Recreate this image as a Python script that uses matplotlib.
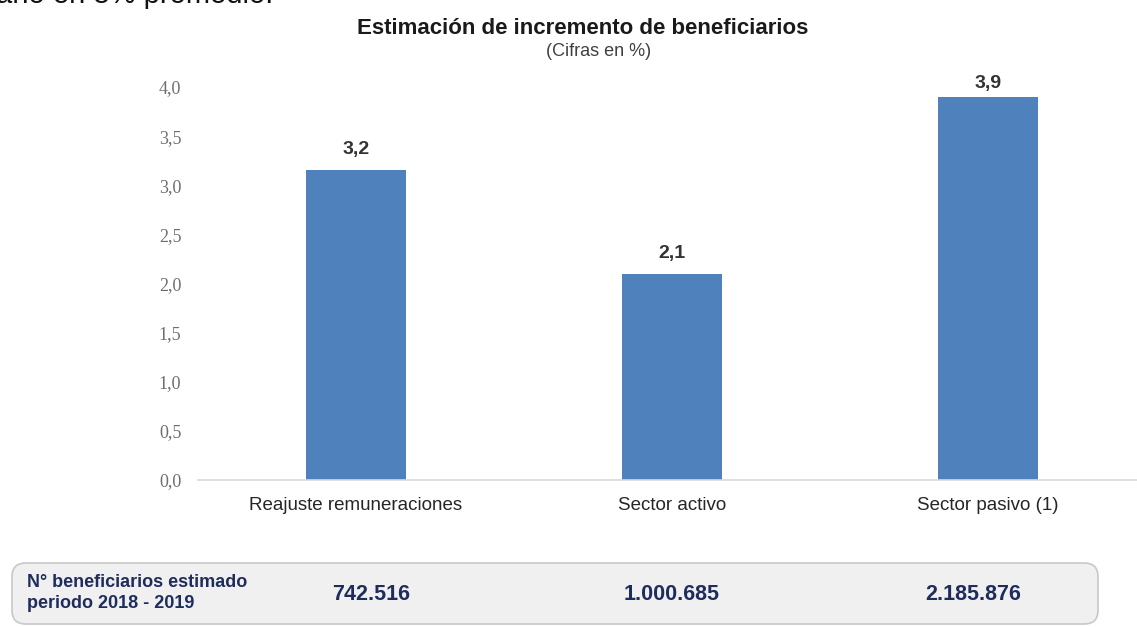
import matplotlib
matplotlib.use("Agg")
import matplotlib.pyplot as plt
from matplotlib.patches import FancyBboxPatch

categories = ["Reajuste remuneraciones", "Sector activo", "Sector pasivo (1)"]
values = [3.16, 2.1, 3.9]
beneficiarios = ["742.516", "1.000.685", "2.185.876"]
yticks = [0.0, 0.5, 1.0, 1.5, 2.0, 2.5, 3.0, 3.5, 4.0]

W, H = 1137, 627
fig = plt.figure(figsize=(W / 100, H / 100), dpi=100)

# axes placement in pixels
left, right, bottom, top = 198, 1137, 480, 87
ax = fig.add_axes([left / W, 1 - bottom / H, (right - left) / W, (bottom - top) / H])
x = list(range(len(categories)))
ax.bar(x, values, width=100 / 316, color="#4f81bd")
ax.set_xlim(-0.5, -0.5 + (right - left) / 316)
ax.set_ylim(0, 4.0)
ax.set_yticks(yticks)
ax.set_yticklabels([f"{v:.1f}".replace(".", ",") for v in yticks],
                   family="Liberation Serif", fontsize=13, color="#6e6e6e")
ax.set_xticks(x)
ax.set_xticklabels(categories, family="Liberation Sans", fontsize=13.5, color="#262626")
ax.tick_params(axis="y", length=0, pad=12)
ax.tick_params(axis="x", length=0, pad=12)
for s in ["top", "right", "left"]:
    ax.spines[s].set_visible(False)
ax.spines["bottom"].set_color("#d9d9d9")
ax.spines["bottom"].set_linewidth(1.2)

for xi, v in zip(x, values):
    ax.text(xi, min(v + 0.12, 3.95), f"{v:.1f}".replace(".", ","), ha="center", va="bottom",
            family="Liberation Sans", fontsize=14, fontweight="bold", color="#333333")

# Titles
fig.text(583 / W, 1 - 29 / H, "Estimación de incremento de beneficiarios", ha="center", va="center",
         family="Liberation Sans", fontsize=16, fontweight="bold", color="#1a1a1a")
fig.text(599 / W, 1 - 51 / H, "(Cifras en %)", ha="center", va="center",
         family="Liberation Sans", fontsize=13, color="#404040")

# Cropped text at top (partly visible in the reference)
fig.text(-4 / W, 1 - 3 / H, "año en 3% promedio.", ha="left", va="baseline",
         family="Liberation Sans", fontsize=21, color="#111111")

# Bottom box
box = FancyBboxPatch((12 / W, 1 - 624 / H), (1098 - 12) / W, (624 - 563) / H,
                     boxstyle="round,pad=0,rounding_size=0.012",
                     transform=fig.transFigure, facecolor="#f0f0f0",
                     edgecolor="#c8c8c8", linewidth=1.2, mutation_aspect=W / H)
fig.patches.append(box)
navy = "#1f2d5c"
fig.text(27 / W, 1 - 593 / H, "N° beneficiarios estimado\nperiodo 2018 - 2019", ha="left", va="center",
         family="Liberation Sans", fontsize=13, fontweight="bold", color=navy, linespacing=1.25)
for i, b in enumerate(beneficiarios):
    xp = 371 + i * 301
    fig.text(xp / W, 1 - 594 / H, b, ha="center", va="center",
             family="Liberation Sans", fontsize=15.5, fontweight="bold", color=navy)

fig.savefig("out.png", dpi=100)
